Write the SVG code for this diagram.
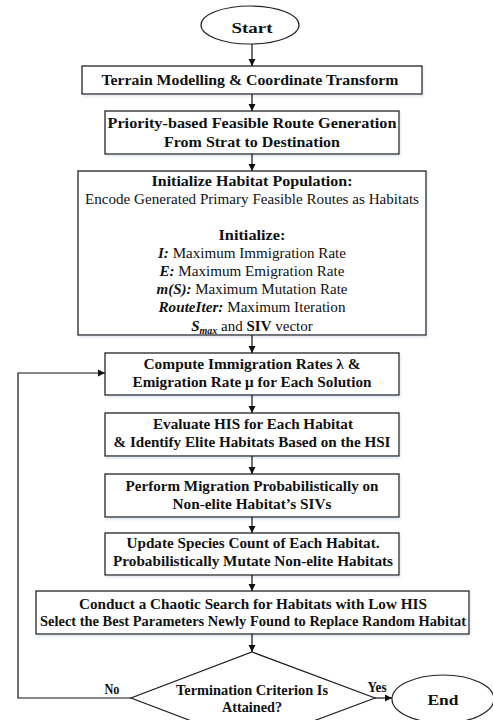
<svg xmlns="http://www.w3.org/2000/svg" width="493" height="720" viewBox="0 0 493 720">
<defs>
<marker id="arr" markerWidth="8" markerHeight="8" refX="7" refY="4" orient="auto" markerUnits="userSpaceOnUse">
<path d="M0,0.5 L7,4 L0,7.5 Z" fill="#111"/>
</marker>
<filter id="sh" x="-5%" y="-10%" width="110%" height="130%">
<feDropShadow dx="1" dy="2" stdDeviation="1.2" flood-color="#9fb0c8" flood-opacity="0.3"/>
</filter>
<style>
.box{fill:#fff;stroke:#222;stroke-width:1.3;filter:url(#sh)}
.shape{fill:#fff;stroke:#222;stroke-width:1.2}
.t{font-family:"Liberation Serif","Times New Roman",serif;font-weight:bold;font-size:15px;fill:#111;text-anchor:middle}
.r{font-family:"Liberation Serif","Times New Roman",serif;font-size:15px;fill:#111;text-anchor:middle}
.b{font-weight:bold}
.i{font-style:italic}
.conn{fill:none;stroke:#111;stroke-width:1.2}
</style>
</defs>

<g id="start">
<ellipse class="shape" cx="250" cy="25" rx="49" ry="19"/>
<text class="t" x="252" y="33" font-size="18" textLength="41" lengthAdjust="spacingAndGlyphs">Start</text>
</g>

<g id="terrain">
<rect class="box" x="82" y="66" width="340" height="28"/>
<text class="t" x="250" y="85" textLength="297" lengthAdjust="spacingAndGlyphs">Terrain Modelling &amp; Coordinate Transform</text>
</g>

<g id="route">
<rect class="box" x="105" y="111" width="294" height="43"/>
<text class="t" x="252" y="128" textLength="289" lengthAdjust="spacingAndGlyphs">Priority-based Feasible Route Generation</text>
<text class="t" x="252" y="147" textLength="176" lengthAdjust="spacingAndGlyphs">From Strat to Destination</text>
</g>

<g id="init">
<rect class="box" x="78" y="171" width="348" height="164"/>
<text class="t" x="252" y="186" textLength="201" lengthAdjust="spacingAndGlyphs">Initialize Habitat Population:</text>
<text class="r" x="252" y="204" textLength="334" lengthAdjust="spacingAndGlyphs">Encode Generated Primary Feasible Routes as Habitats</text>
<text class="t" x="252" y="240" textLength="67" lengthAdjust="spacingAndGlyphs">Initialize:</text>
<text class="r" x="252" y="258" textLength="188" lengthAdjust="spacingAndGlyphs"><tspan class="b i">I:</tspan> Maximum Immigration Rate</text>
<text class="r" x="252" y="276" textLength="185" lengthAdjust="spacingAndGlyphs"><tspan class="b i">E:</tspan> Maximum Emigration Rate</text>
<text class="r" x="252" y="294" textLength="191" lengthAdjust="spacingAndGlyphs"><tspan class="b i">m(S):</tspan> Maximum Mutation Rate</text>
<text class="r" x="252" y="312" textLength="187" lengthAdjust="spacingAndGlyphs"><tspan class="b i">RouteIter:</tspan> Maximum Iteration</text>
<text class="r" x="252" y="331"><tspan class="b i">S</tspan><tspan class="b i" font-size="10" dy="3">max</tspan><tspan dy="-3"> and </tspan><tspan class="b">SIV</tspan> vector</text>
</g>

<g id="compute">
<rect class="box" x="105" y="353" width="294" height="42"/>
<text class="t" x="252" y="369" textLength="217" lengthAdjust="spacingAndGlyphs">Compute Immigration Rates λ  &amp;</text>
<text class="t" x="252" y="387" textLength="239" lengthAdjust="spacingAndGlyphs">Emigration Rate μ for Each Solution</text>
</g>

<g id="evaluate">
<rect class="box" x="105" y="413" width="294" height="43"/>
<text class="t" x="253" y="429" textLength="200" lengthAdjust="spacingAndGlyphs">Evaluate HIS for Each Habitat</text>
<text class="t" x="252" y="447" textLength="277" lengthAdjust="spacingAndGlyphs">&amp; Identify Elite Habitats Based on the HSI</text>
</g>

<g id="migrate">
<rect class="box" x="105" y="474" width="294" height="43"/>
<text class="t" x="252" y="491" textLength="253" lengthAdjust="spacingAndGlyphs">Perform Migration Probabilistically on</text>
<text class="t" x="252" y="509" textLength="159" lengthAdjust="spacingAndGlyphs">Non-elite Habitat’s SIVs</text>
</g>

<g id="update">
<rect class="box" x="105" y="533" width="294" height="42"/>
<text class="t" x="253" y="548" textLength="253" lengthAdjust="spacingAndGlyphs">Update Species Count of Each Habitat.</text>
<text class="t" x="253" y="566" textLength="280" lengthAdjust="spacingAndGlyphs">Probabilistically Mutate Non-elite Habitats</text>
</g>

<g id="chaotic">
<rect class="box" x="36" y="591" width="433" height="43"/>
<text class="t" x="253" y="609" textLength="348" lengthAdjust="spacingAndGlyphs">Conduct a Chaotic Search for Habitats with Low HIS</text>
<text class="t" x="253" y="626" textLength="426" lengthAdjust="spacingAndGlyphs">Select the Best Parameters Newly Found to Replace Random Habitat</text>
</g>

<g id="decision">
<polygon class="shape" points="252,652 375,698 252,744 131,698"/>
<text class="t" x="252" y="695" textLength="152" lengthAdjust="spacingAndGlyphs">Termination Criterion Is</text>
<text class="t" x="252" y="712" textLength="60" lengthAdjust="spacingAndGlyphs">Attained?</text>
</g>

<g id="end">
<ellipse class="shape" cx="443" cy="699" rx="51" ry="24"/>
<text class="t" x="443" y="705" font-size="18" textLength="31" lengthAdjust="spacingAndGlyphs">End</text>
</g>

<g id="connectors">
<line class="conn" x1="252" y1="44" x2="252" y2="66" marker-end="url(#arr)"/>
<line class="conn" x1="252" y1="94" x2="252" y2="111" marker-end="url(#arr)"/>
<line class="conn" x1="252" y1="154" x2="252" y2="171" marker-end="url(#arr)"/>
<line class="conn" x1="252" y1="335" x2="252" y2="353" marker-end="url(#arr)"/>
<line class="conn" x1="252" y1="395" x2="252" y2="413" marker-end="url(#arr)"/>
<line class="conn" x1="252" y1="456" x2="252" y2="474" marker-end="url(#arr)"/>
<line class="conn" x1="252" y1="517" x2="252" y2="533" marker-end="url(#arr)"/>
<line class="conn" x1="252" y1="575" x2="252" y2="591" marker-end="url(#arr)"/>
<line class="conn" x1="252" y1="634" x2="252" y2="652" marker-end="url(#arr)"/>
<line class="conn" x1="375" y1="698" x2="392" y2="698" marker-end="url(#arr)"/>
<polyline class="conn" points="131,698 18,698 18,373 105,373" marker-end="url(#arr)"/>
<text class="t" x="112" y="694" font-size="13" textLength="15" lengthAdjust="spacingAndGlyphs">No</text>
<text class="t" x="377" y="692" font-size="13" textLength="19" lengthAdjust="spacingAndGlyphs">Yes</text>
</g>
</svg>
